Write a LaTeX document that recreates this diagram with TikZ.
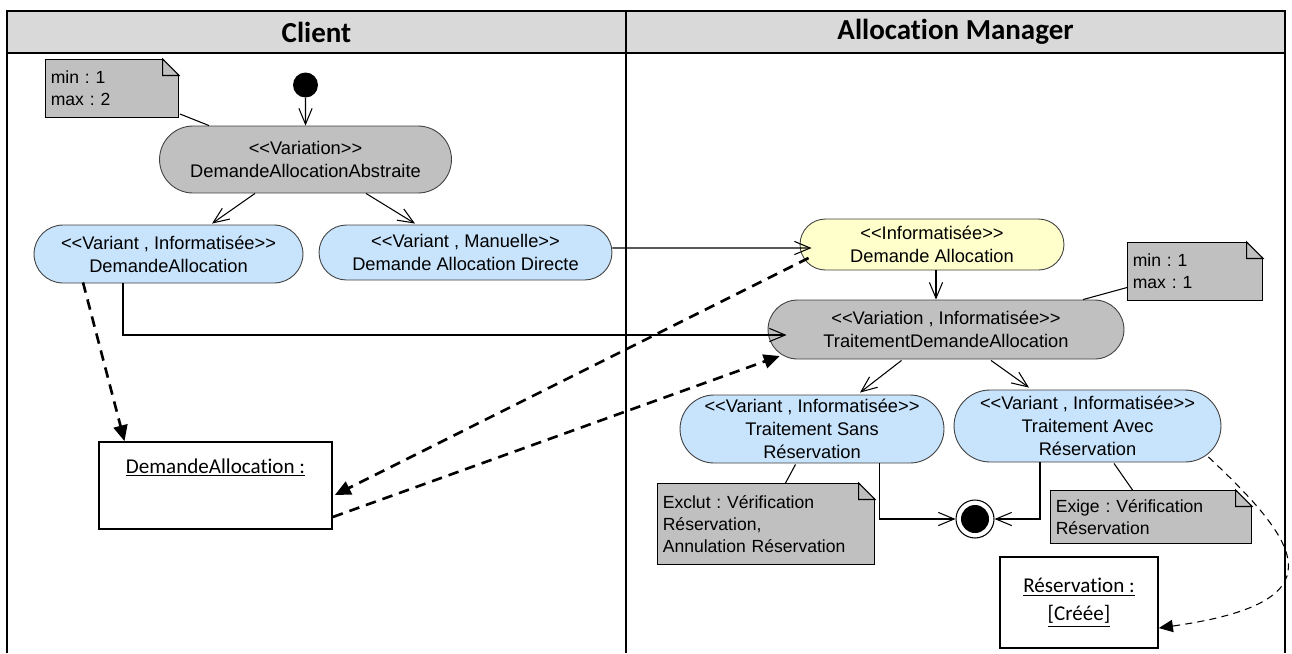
\documentclass[tikz,border=0pt]{standalone}
\usepackage{fontspec}
\setmainfont{Liberation Sans}[Ligatures=TeXOff]
\newfontfamily\calibri{Carlito}[Ligatures={TeXOff,NoCommon}]
\usetikzlibrary{shapes.misc,arrows.meta,calc}
\frenchspacing

\definecolor{nodegray}{HTML}{C0C0C0}
\definecolor{nodeblue}{HTML}{C8E3FC}
\definecolor{nodeyellow}{HTML}{FFFFCC}
\definecolor{headgray}{HTML}{D9D9D9}
\definecolor{edgegray}{HTML}{404040}

\tikzset{
  action/.style={rounded rectangle, draw=edgegray, line width=0.5pt, align=center, inner sep=0pt, font=\fontsize{10.4}{13}\selectfont},
  variation/.style={action, fill=nodegray},
  variant/.style={action, fill=nodeblue},
  plainact/.style={action, fill=nodeyellow},
  objbox/.style={draw, line width=1pt, fill=white, inner sep=0pt, align=center, font=\calibri\fontsize{12}{16}\selectfont},
  note/.style={rectangle, draw, line width=0.6pt, fill=nodegray, anchor=north west, align=left, inner sep=3pt, font=\fontsize{10}{12.5}\selectfont},
  lanehead/.style={rectangle, draw, line width=1.1pt, fill=headgray, minimum height=0.84cm, font=\calibri\bfseries\fontsize{16.5}{18}\selectfont},
  lane/.style={line width=1.1pt},
  flow/.style={line width=0.6pt, -{Straight Barb[length=9pt,width=7.5pt]}},
  objflow/.style={line width=1.5pt, dash pattern=on 6pt off 4pt, -{Triangle[length=9pt,width=8pt]}},
  resflow/.style={line width=0.6pt, dash pattern=on 4pt off 3pt, -{Triangle[length=8pt,width=7pt]}},
  link/.style={line width=0.6pt},
}

\begin{document}
\begin{tikzpicture}[x=0.02cm, y=-0.02cm]
\useasboundingbox (0,0) rectangle (1292,653);
\node[lanehead, minimum width=12.38cm] (hClient) at (316.5,32) {Client};
\node[lanehead, minimum width=13.18cm] (hManager) at (955.5,32) {Allocation Manager};
\draw[lane] (7,11) -- (7,653);
\draw[lane] (626,11) -- (626,653);
\draw[lane] (1285,11) -- (1285,653);

\node[circle, fill=black, inner sep=0pt, minimum size=0.5cm] (start) at (305.5,85) {};
\node[variation, minimum width=5.84cm, minimum height=1.34cm] (abstr) at (305.5,159.5) {<<Variation>>\\DemandeAllocationAbstraite};
\node[variant, minimum width=5.38cm, minimum height=1.16cm] (daInf) at (168.5,254) {<<Variant , Informatisée>>\\DemandeAllocation};
\node[variant, minimum width=5.86cm, minimum height=1.10cm] (daDir) at (465.5,252.5) {<<Variant , Manuelle>>\\Demande Allocation Directe};
\node[plainact, minimum width=5.28cm, minimum height=1.02cm] (daYel) at (932,244.5) {<<Informatisée>>\\Demande Allocation};
\node[variation, minimum width=7.12cm, minimum height=1.18cm] (trait) at (946,329.5) {<<Variation , Informatisée>>\\TraitementDemandeAllocation};
\node[variant, minimum width=5.28cm, minimum height=1.36cm] (sans) at (812,429) {<<Variant , Informatisée>>\\Traitement Sans\\Réservation};
\node[variant, minimum width=5.34cm, minimum height=1.44cm] (avec) at (1087.5,426) {<<Variant , Informatisée>>\\Traitement Avec\\Réservation};
\node[circle, draw, line width=0.6pt, fill=white, inner sep=0pt, minimum size=0.76cm, path picture={\fill[black] (path picture bounding box.center) circle (0.28cm);}] (final) at (975,519) {};

\node[objbox, minimum width=4.66cm, text height=0.62cm, text depth=1.12cm] (objDA) at (215.5,485.5) {\underline{DemandeAllocation :}};
\node[objbox, minimum width=3.16cm, minimum height=1.82cm] (objRes) at (1079,602.5) {\underline{Réservation :}\\\underline{[Créée]}};

\node[note, minimum width=2.66cm, minimum height=1.16cm, text width=2.45cm] (note1) at (45,59) {min : 1\\max : 2};
\node[note, minimum width=2.70cm, minimum height=1.16cm, text width=2.49cm] (note2) at (1127,242) {min : 1\\max : 1};
\node[note, minimum width=4.34cm, minimum height=1.62cm, text width=4.13cm] (note3) at (657,483) {Exclut : Vérification\\Réservation,\\Annulation Réservation};
\node[note, minimum width=4.02cm, minimum height=1.06cm, text width=3.81cm] (note4) at (1050,490) {Exige : Vérification\\Réservation};
\foreach \n in {note1,note2,note3,note4} {
  \fill[white] ([xshift=-0.33cm,yshift=0.6pt]\n.north east) -- ([xshift=0.6pt,yshift=0.6pt]\n.north east) -- ([xshift=0.6pt,yshift=-0.33cm]\n.north east) -- cycle;
  \draw[link] ([xshift=-0.33cm]\n.north east) -- ([yshift=-0.33cm]\n.north east) -- ([xshift=-0.33cm,yshift=-0.33cm]\n.north east) -- cycle;
}

\draw[flow] (start) -- (abstr);
\draw[flow] ($(abstr.south)+(-50.5,0)$) -- ($(daInf.north)+(43.5,-1)$);
\draw[flow] ($(abstr.south)+(60.5,0)$) -- ($(daDir.north)+(-50.5,-1)$);
\draw[flow] ($(daDir.east)+(0,-4.5)$) -- ($(daYel.west)+(12,3.5)$);
\draw[flow] ($(daYel.south)+(4,0)$) -- ($(trait.north)+(-10,0)$);
\draw[flow] ($(daInf.south)+(-45.5,0)$) |- ($(trait.west)+(19,5.5)$);
\draw[flow] ($(trait.south)+(-44.5,1)$) -- ($(sans.north)+(48,-2)$);
\draw[flow] ($(trait.south)+(45,1)$) -- ($(avec.north)+(-58.5,-2)$);
\draw[flow] ($(sans.south)+(67.5,0)$) |- (final.west);
\draw[flow] ($(avec.south)+(-47.5,0)$) |- (final.east);

\draw[objflow] ($(daInf.south)+(-85.5,-1)$) -- ($(objDA.north)+(-91,0)$);
\draw[objflow] ($(daYel.west)+(9,13.5)$) -- ($(objDA.east)+(2,9.5)$);
\draw[objflow] ($(objDA.east)+(0,31.5)$) -- ($(trait.west)+(12,26.5)$);
\draw[resflow] ($(avec.east)+(-13,31)$) .. controls ($(avec.east)+(82,120)$) and ($(objRes.east)+(180,0)$) .. ($(objRes.east)+(0,25.5)$);

\draw[link] ($(note1.south east)+(1,-4)$) -- ($(abstr.north)+(-96.5,0)$);
\draw[link] ($(note2.west)+(0,16)$) -- ($(trait.north)+(137,0)$);
\draw[link] ($(note3.north)+(19.5,0)$) -- ($(sans.south)+(-16.5,1)$);
\draw[link] ($(note4.north)+(-18.5,0)$) -- ($(avec.south)+(26.5,1)$);
\end{tikzpicture}
\end{document}
